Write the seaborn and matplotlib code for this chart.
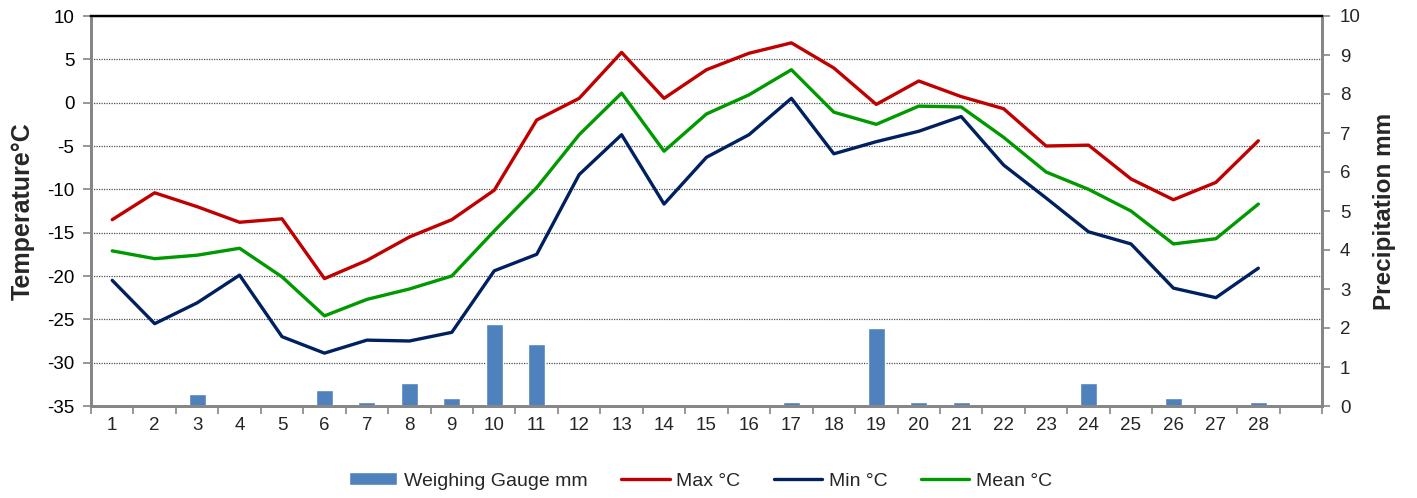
import numpy as np
import pandas as pd
import matplotlib
matplotlib.use('Agg')
import matplotlib.pyplot as plt
import seaborn as sns

# --- chart data ---
days = list(range(1, 29))
t_max = [-13.5, -10.4, -12.0, -13.8, -13.4, -20.3, -18.2, -15.5, -13.5, -10.1,
         -2.0, 0.5, 5.8, 0.5, 3.8, 5.7, 6.9, 4.0, -0.2, 2.5,
         0.7, -0.7, -5.0, -4.9, -8.8, -11.2, -9.2, -4.4]
t_min = [-20.5, -25.5, -23.1, -19.9, -27.0, -28.9, -27.4, -27.5, -26.5, -19.4,
         -17.5, -8.3, -3.7, -11.7, -6.3, -3.7, 0.5, -5.9, -4.5, -3.3,
         -1.6, -7.2, -11.0, -14.9, -16.3, -21.4, -22.5, -19.1]
t_mean = [-17.1, -18.0, -17.6, -16.8, -20.1, -24.6, -22.7, -21.5, -20.0, -14.8,
          -9.8, -3.7, 1.1, -5.6, -1.3, 0.9, 3.8, -1.1, -2.5, -0.4,
          -0.5, -4.0, -8.0, -10.0, -12.5, -16.3, -15.7, -11.7]
precip = [0, 0, 0.3, 0, 0, 0.4, 0.1, 0.6, 0.2, 2.1,
          1.6, 0, 0, 0, 0, 0, 0.1, 0, 2.0, 0.1,
          0.1, 0, 0, 0.6, 0, 0.2, 0, 0.1]

temp_ticks = list(range(-35, 11, 5))
precip_ticks = list(range(0, 11))

df = pd.DataFrame({'day': days, 'max': t_max, 'min': t_min,
                   'mean': t_mean, 'precip': precip})

sns.set_style('white')
plt.rcParams['font.family'] = ['Liberation Sans', 'DejaVu Sans']

GRAY = '#868686'

fig = plt.figure(figsize=(14.17, 4.98), dpi=100)
rect = [91 / 1417, 1 - 406 / 498, (1322 - 91) / 1417, (406 - 16) / 498]

# temperature axis (grid + left ticks)
ax = fig.add_axes(rect)
# precipitation axis (bars, right ticks)
ax_p = ax.twinx()
# line layer on top of the bars, sharing the temperature scale
ax_l = fig.add_axes(rect, sharex=ax, sharey=ax)
ax_l.patch.set_visible(False)

sns.barplot(data=df, x='day', y='precip', native_scale=True, width=0.4,
            color='#4F81BD', saturation=1, errorbar=None, ax=ax_p,
            label='Weighing Gauge mm')

sns.lineplot(data=df, x='day', y='max', color='#C00000', lw=2.4, ax=ax_l, label='Max °C')
sns.lineplot(data=df, x='day', y='min', color='#002060', lw=2.4, ax=ax_l, label='Min °C')
sns.lineplot(data=df, x='day', y='mean', color='#009900', lw=2.4, ax=ax_l, label='Mean °C')

for a in (ax, ax_p, ax_l):
    if a.get_legend() is not None:
        a.get_legend().remove()

ax.set_xlim(0.5, 29.5)
ax.set_ylim(-35, 10)
ax_p.set_ylim(0, 10)

# left axis
ax.set_yticks(temp_ticks)
ax.set_yticklabels([str(t) for t in temp_ticks])
ax.yaxis.grid(True, linestyle=(0, (1, 1)), color='#505050', lw=0.9)
ax.set_ylabel('Temperature°C', fontsize=18, fontweight='bold', labelpad=9)
ax.tick_params(axis='y', which='major', left=True, length=6, width=1.2,
               color=GRAY, labelsize=13.5, pad=6, labelcolor='black')

# x axis: labels centred on days, tick marks between categories
ax.set_xticks(days)
ax.set_xticklabels([str(d) for d in days])
ax.set_xticks(np.arange(0.5, 30, 1), minor=True)
ax.tick_params(axis='x', which='major', length=0, labelsize=13.5, pad=8)
ax.tick_params(axis='x', which='minor', bottom=True, length=6, width=1.2, color=GRAY)
ax.set_xlabel('')

# right axis
ax_p.set_yticks(precip_ticks)
ax_p.set_yticklabels([str(p) for p in precip_ticks])
ax_p.tick_params(axis='y', right=True, length=6, width=1.2, color=GRAY,
                 labelsize=13.5, pad=7)
ax_p.set_ylabel('Precipitation mm', fontsize=17.5, fontweight='bold', labelpad=9)
ax_p.grid(False)

# spines
for a in (ax, ax_p):
    a.spines['top'].set_color('black')
    a.spines['top'].set_linewidth(1.6)
    a.spines['left'].set_color(GRAY)
    a.spines['left'].set_linewidth(2)
    a.spines['right'].set_color(GRAY)
    a.spines['right'].set_linewidth(2)
    a.spines['bottom'].set_color(GRAY)
    a.spines['bottom'].set_linewidth(2)
ax_l.axis('off')

handles, labels = [], []
for a in (ax_p, ax_l):
    h, l = a.get_legend_handles_labels()
    handles += h
    labels += l

fig.legend(handles, labels, loc='center', bbox_to_anchor=(0.5 - 8 / 1417, 1 - 481 / 498),
           ncol=4, frameon=False, fontsize=14, handlelength=2.5,
           handletextpad=0.35, columnspacing=1.7, handleheight=0.6)

fig.savefig('out.png', dpi=100)
